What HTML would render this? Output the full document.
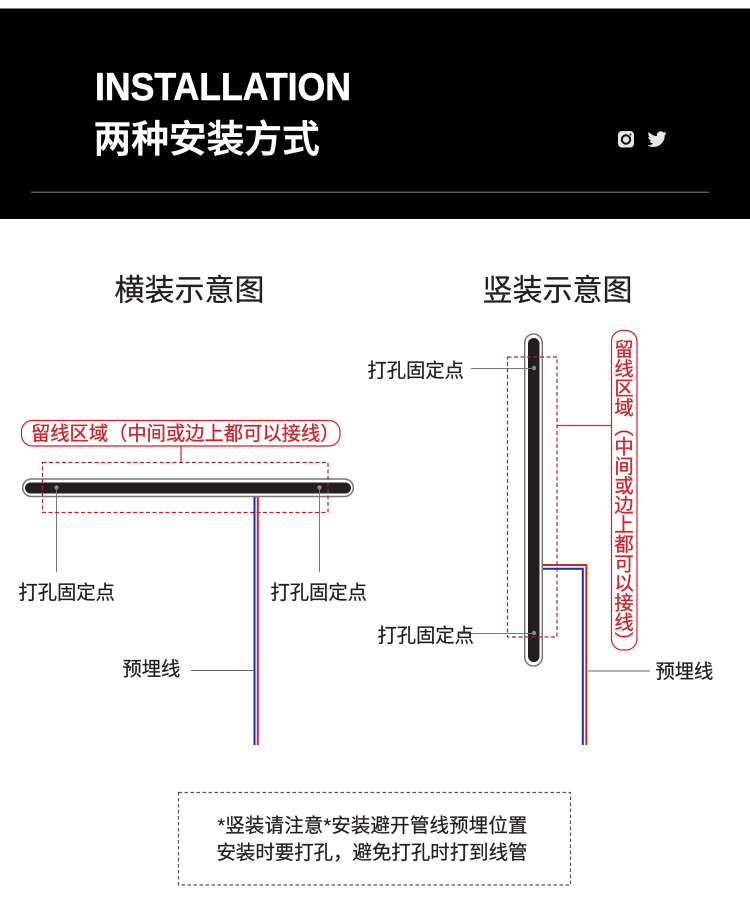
<!DOCTYPE html>
<html lang="zh">
<head>
<meta charset="utf-8">
<style>
html,body{margin:0;padding:0;background:#fff;width:750px;height:898px;overflow:hidden}
svg{display:block}
text{font-family:"Liberation Sans","Noto Sans CJK SC",sans-serif;fill:#231f20;stroke:#231f20;stroke-width:.25}
.vt{position:absolute;left:608px;top:339px;width:26px;height:304px;font:19.3px/26px "Liberation Sans","Noto Sans CJK SC",sans-serif;color:#d2232a;-webkit-text-stroke:.3px #d2232a;letter-spacing:.2px;writing-mode:vertical-rl;white-space:nowrap}
</style>
</head>
<body>
<svg width="750" height="898" viewBox="0 0 750 898" xmlns="http://www.w3.org/2000/svg">
<rect width="750" height="898" fill="#fff"/>
<rect x="0" y="8.5" width="750" height="210.5" fill="#000"/>
<rect x="31" y="191.7" width="678" height="1" fill="#808080"/>
<text x="95" y="100" font-size="38.5" font-weight="700" textLength="256" lengthAdjust="spacingAndGlyphs" style="fill:#fff;stroke:#fff;stroke-width:.6">INSTALLATION</text>
<text x="93.5" y="152" font-size="37.7" font-weight="500" style="fill:#fff;stroke:#fff;stroke-width:.7">两种安装方式</text>

<rect x="618" y="131" width="16" height="16.5" rx="4" fill="#e6e6e6"/>
<circle cx="626" cy="139.5" r="4.2" fill="none" stroke="#111" stroke-width="2"/>
<circle cx="630.5" cy="134.5" r="1" fill="#111"/>
<path transform="translate(647.5,129.5) scale(0.8)" fill="#e6e6e6" d="M24 4.6c-.9.4-1.8.7-2.8.8 1-.6 1.8-1.6 2.2-2.7-1 .6-2 1-3.1 1.2C19.3 2.8 18 2.2 16.6 2.2c-3.2 0-5.5 3-4.8 6C7.7 8 4.100 6.100 1.700 3.100.4 5.300 1 8.200 3.200 9.700c-.8 0-1.600-.2-2.200-.6-.1 2.300 1.600 4.400 3.900 4.900-.7.2-1.500.2-2.200.1.600 2 2.400 3.400 4.600 3.400C5.200 19.100 2.600 19.800 0 19.500c2.200 1.400 4.800 2.300 7.500 2.300 9.100 0 14.300-7.700 14-14.600 1-.7 1.800-1.600 2.500-2.600z"/>

<text x="114.500" y="300.500" font-size="30">横装示意图</text>
<text x="482.500" y="300.500" font-size="30">竖装示意图</text>

<rect x="22.700" y="479" width="330.600" height="17.500" rx="8.700" fill="#fff" stroke="#777" stroke-width="1.500"/>
<rect x="25" y="482.500" width="326" height="11" rx="5.500" fill="#231f20"/>
<circle cx="56.500" cy="487.500" r="2.200" fill="#8a8a8a"/>
<circle cx="319.500" cy="487.500" r="2.200" fill="#8a8a8a"/>
<path d="M56.500 488V572M319.500 488V572" stroke="#777" stroke-width="1" fill="none"/>
<rect x="42.500" y="462.500" width="285.500" height="50" fill="none" stroke="#b8202c" stroke-width="1.200" stroke-dasharray="4 2.500"/>
<rect x="21.500" y="420.500" width="318.500" height="25.500" rx="11" fill="#fff" stroke="#d2232a" stroke-width="1.200"/>
<path d="M181 446V462" stroke="#d2232a" stroke-width="1.200" fill="none"/>
<text x="31" y="440" font-size="19.300" style="fill:#d2232a;stroke:#d2232a;stroke-width:.3">留线区域（中间或边上都可以接线）</text>
<path d="M254.500 497V745" stroke="#1f2ab5" stroke-width="2" fill="none"/>
<path d="M257.800 497V745" stroke="#d2232a" stroke-width="2" fill="none"/>
<path d="M191 670.500H254" stroke="#666" stroke-width="1" fill="none"/>
<text x="18.500" y="599" font-size="19.300">打孔固定点</text>
<text x="270.500" y="599" font-size="19.300">打孔固定点</text>
<text x="122.500" y="675.500" font-size="19.300">预埋线</text>

<rect x="524.700" y="334" width="17.600" height="332" rx="8.800" fill="#fff" stroke="#777" stroke-width="1.500"/>
<rect x="528" y="338" width="11.500" height="324" rx="5.700" fill="#231f20"/>
<circle cx="534" cy="368" r="2.200" fill="#8a8a8a"/>
<circle cx="534" cy="633" r="2.200" fill="#8a8a8a"/>
<path d="M471 368.500H534M460 633.500H534" stroke="#777" stroke-width="1" fill="none"/>
<rect x="507.500" y="357" width="49.500" height="280" fill="none" stroke="#b8202c" stroke-width="1.200" stroke-dasharray="4 2.500"/>
<rect x="611.500" y="330.500" width="25.500" height="319.500" rx="11" fill="#fff" stroke="#d2232a" stroke-width="1.200"/>
<path d="M557 425.500H611" stroke="#d2232a" stroke-width="1.200" fill="none"/>
<path d="M543 565H586.300V745" stroke="#d2232a" stroke-width="2" fill="none"/>
<path d="M543 568.800H582.800V745" stroke="#1f2ab5" stroke-width="2" fill="none"/>
<path d="M588 671H650" stroke="#666" stroke-width="1" fill="none"/>
<text x="367.500" y="377" font-size="19.300">打孔固定点</text>
<text x="377.500" y="642" font-size="19.300">打孔固定点</text>
<text x="655.500" y="678" font-size="19.300">预埋线</text>

<rect x="178.500" y="792.500" width="392" height="92.500" fill="none" stroke="#555" stroke-width="1.200" stroke-dasharray="3.500 2.500"/>
<text x="217.500" y="832" font-size="19.450" textLength="310">*竖装请注意*安装避开管线预埋位置</text>
<text x="216.500" y="859" font-size="19.450" textLength="311">安装时要打孔，避免打孔时打到线管</text>
</svg>
<div class="vt">留线区域（中间或边上都可以接线）</div>
</body>
</html>
